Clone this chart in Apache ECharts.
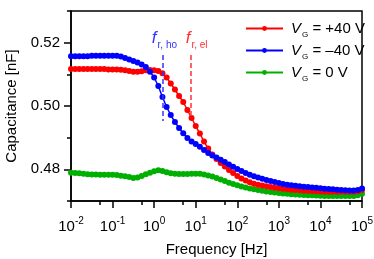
<!DOCTYPE html>
<html><head><meta charset="utf-8">
<script src="https://cdn.jsdelivr.net/npm/echarts@6/dist/echarts.min.js"></script>
<style>html,body{margin:0;padding:0;background:#fff}#c{width:374px;height:259px}</style>
</head><body><div id="c"></div>
<script>
// log10 of frequency [Hz]
const logFreq = [-2.0,-1.9,-1.8,-1.7,-1.6,-1.5,-1.4,-1.3,-1.2,-1.1,-1.0,-0.9,-0.8,-0.7,-0.6,-0.5,-0.4,-0.3,-0.2,-0.1,
  0.0,0.1,0.2,0.3,0.4,0.5,0.6,0.7,0.8,0.9,1.0,1.1,1.2,1.3,1.4,1.5,1.6,1.7,1.8,1.9,
  2.0,2.1,2.2,2.3,2.4,2.5,2.6,2.7,2.8,2.9,3.0,3.1,3.2,3.3,3.4,3.5,3.6,3.7,3.8,3.9,
  4.0,4.1,4.2,4.3,4.4,4.5,4.6,4.7,4.8,4.9,5.0];
const capPlus40 = [0.51165,0.51165,0.51165,0.51165,0.51165,0.51165,0.51165,0.51165,0.51165,0.51155,0.51155,0.51155,
  0.51144,0.51128,0.51106,0.51084,0.51081,0.51100,0.51128,0.51137,0.51131,0.51106,0.51033,0.50900,0.50711,0.50521,
  0.50316,0.50126,0.49874,0.49621,0.49368,0.49131,0.48878,0.48657,0.48468,0.48325,0.48199,0.48088,0.47978,0.47883,
  0.47788,0.47709,0.47646,0.47592,0.47548,0.47517,0.47491,0.47466,0.47441,0.47422,0.47403,0.47387,0.47371,0.47359,
  0.47346,0.47336,0.47327,0.47321,0.47314,0.47308,0.47302,0.47296,0.47296,0.47296,0.47296,0.47296,0.47296,0.47296,
  0.47296,0.47305,0.47346];
const capMinus40 = [0.51570,0.51570,0.51570,0.51570,0.51570,0.51583,0.51583,0.51583,0.51583,0.51583,0.51583,0.51583,
  0.51564,0.51517,0.51469,0.51422,0.51374,0.51311,0.51232,0.51084,0.50900,0.50632,0.50284,0.49968,0.49716,0.49494,
  0.49305,0.49137,0.48989,0.48878,0.48799,0.48714,0.48610,0.48515,0.48436,0.48373,0.48300,0.48231,0.48152,0.48082,
  0.48009,0.47946,0.47883,0.47826,0.47779,0.47741,0.47700,0.47662,0.47630,0.47599,0.47567,0.47536,0.47517,0.47498,
  0.47482,0.47466,0.47453,0.47441,0.47428,0.47415,0.47403,0.47390,0.47378,0.47368,0.47355,0.47346,0.47336,0.47330,
  0.47330,0.47346,0.47393];
const capZero = [0.47893,0.47883,0.47874,0.47858,0.47845,0.47839,0.47833,0.47829,0.47829,0.47829,0.47829,0.47820,
  0.47801,0.47782,0.47757,0.47725,0.47741,0.47788,0.47842,0.47893,0.47937,0.47968,0.47946,0.47905,0.47877,0.47858,
  0.47852,0.47852,0.47855,0.47858,0.47858,0.47862,0.47836,0.47804,0.47770,0.47725,0.47678,0.47630,0.47580,0.47536,
  0.47494,0.47460,0.47425,0.47397,0.47371,0.47346,0.47324,0.47302,0.47283,0.47267,0.47251,0.47239,0.47226,0.47217,
  0.47207,0.47198,0.47191,0.47185,0.47179,0.47172,0.47166,0.47160,0.47160,0.47160,0.47160,0.47160,0.47160,0.47160,
  0.47160,0.47179,0.47226];
const xMajorTicks = [-2,-1,0,1,2,3,4,5];
const xMinorTicks = [-1.301,-0.301,0.699,1.699,2.699,3.699,4.699];
const yMajorTicks = [0.48,0.50,0.52];
const yMinorTicks = [0.47,0.49,0.51,0.53];
const seriesNames = ['VG = +40 V','VG = \u201340 V','VG = 0 V'];
const legendTexts = ['{v|V}{sub|G}{t| = +40 V}','{v|V}{sub|G}{t| = \u201340 V}','{v|V}{sub|G}{t| = 0 V}'];
const colors = ['#ff0000','#0000ff','#00b000'];
// resonance markers: [log10 f, top value, bottom value]
const fHo = [0.2, 0.5161, 0.4953];
const fEl = [0.877, 0.5161, 0.4962];
const fHoLabel = '{f|f}{sub|r, ho}';
const fElLabel = '{f|f}{sub|r, el}';

const FONT = 'Liberation Sans';
const zip = (xs, ys) => xs.map((x, i) => [x, ys[i]]);
const axisLine = {show: true, onZero: false, lineStyle: {color: '#000', width: 1.5}};
const noLine = {show: false, onZero: false};

function marker(def, label, color, off) {
  return {
    silent: true, symbol: ['none','none'], animation: false,
    lineStyle: {type: [5,3], width: 1.5, color: color},
    label: {show: true, position: 'start', distance: 5, offset: off, formatter: label, color: color,
      fontFamily: FONT,
      rich: {f: {fontSize: 17, fontStyle: 'italic', color: color, fontFamily: FONT},
             sub: {fontSize: 10, padding: [14,0,0,1], color: color, fontFamily: FONT}}},
    data: [[{coord: [def[0], def[1]]}, {coord: [def[0], def[2]]}]]
  };
}

const chart = echarts.init(document.getElementById('c'), null, {renderer: 'canvas'});
chart.setOption({
  animation: false,
  backgroundColor: '#fff',
  grid: {left: 71, right: 12, top: 11, bottom: 58, show: true, borderColor: '#000', borderWidth: 1.5,
         backgroundColor: 'transparent', containLabel: false, outerBoundsMode: 'none'},
  xAxis: [
    {type: 'value', min: -2, max: 5, position: 'bottom', axisLine: axisLine,
     axisTick: {show: true, inside: false, length: 7, customValues: xMajorTicks, lineStyle: {color: '#000', width: 1.5}},
     axisLabel: {customValues: xMajorTicks, margin: 15, color: '#000', fontFamily: FONT, fontSize: 15,
       formatter: v => '{b|10}{sup|' + Math.round(v) + '}',
       rich: {b: {fontSize: 15, fontFamily: FONT, color: '#000'},
              sup: {fontSize: 10, fontFamily: FONT, color: '#000', padding: [0,0,12,0]}}},
     splitLine: {show: false},
     name: 'Frequency [Hz]', nameLocation: 'middle', nameGap: 41,
     nameTextStyle: {fontFamily: FONT, fontSize: 15, color: '#000'}},
    {type: 'value', min: -2, max: 5, position: 'top', axisLine: noLine,
     axisTick: {show: false}, axisLabel: {show: false}, splitLine: {show: false}},
    {type: 'value', min: -2, max: 5, position: 'bottom', axisLine: noLine,
     axisTick: {show: true, length: 4, customValues: xMinorTicks, lineStyle: {color: '#000', width: 1.5}},
     axisLabel: {show: false}, splitLine: {show: false}}
  ],
  yAxis: [
    {type: 'value', min: 0.47, max: 0.53, position: 'left', axisLine: axisLine,
     axisTick: {show: true, length: 7, customValues: yMajorTicks, lineStyle: {color: '#000', width: 1.5}},
     axisLabel: {customValues: yMajorTicks, margin: 11, color: '#000', fontFamily: FONT, fontSize: 15,
       formatter: v => v.toFixed(2)},
     splitLine: {show: false},
     name: 'Capacitance [nF]', nameLocation: 'middle', nameGap: 52,
     nameTextStyle: {fontFamily: FONT, fontSize: 15, color: '#000'}},
    {type: 'value', min: 0.47, max: 0.53, position: 'right', axisLine: noLine,
     axisTick: {show: false}, axisLabel: {show: false}, splitLine: {show: false}},
    {type: 'value', min: 0.47, max: 0.53, position: 'left', axisLine: noLine,
     axisTick: {show: true, length: 4, customValues: yMinorTicks, lineStyle: {color: '#000', width: 1.5}},
     axisLabel: {show: false}, splitLine: {show: false}}
  ],
  legend: {
    data: seriesNames, orient: 'vertical', left: 245, top: 21, padding: 0,
    itemWidth: 37, itemHeight: 6, itemGap: 4,
    formatter: name => legendTexts[seriesNames.indexOf(name)],
    textStyle: {fontFamily: FONT, fontSize: 15, color: '#000',
      rich: {v: {fontSize: 15, fontStyle: 'italic', fontFamily: FONT, color: '#000', padding: [0,0,0,3]},
             sub: {fontSize: 8, fontFamily: FONT, color: '#000', padding: [13,0,0,1]},
             t: {fontSize: 15, fontFamily: FONT, color: '#000'}}}
  },
  series: [
    {name: seriesNames[0], type: 'line', data: zip(logFreq, capPlus40), color: colors[0],
     symbol: 'circle', symbolSize: 6, lineStyle: {width: 1.5}, z: 3,
     markLine: marker(fEl, fElLabel, '#ff3030', [6, 0])},
    {name: seriesNames[1], type: 'line', data: zip(logFreq, capMinus40), color: colors[1],
     symbol: 'circle', symbolSize: 6, lineStyle: {width: 1.5}, z: 4,
     markLine: marker(fHo, fHoLabel, '#3333ff', [2, 0])},
    {name: seriesNames[2], type: 'line', data: zip(logFreq, capZero), color: colors[2],
     symbol: 'circle', symbolSize: 6, lineStyle: {width: 1.5}, z: 2}
  ]
});
</script></body></html>
